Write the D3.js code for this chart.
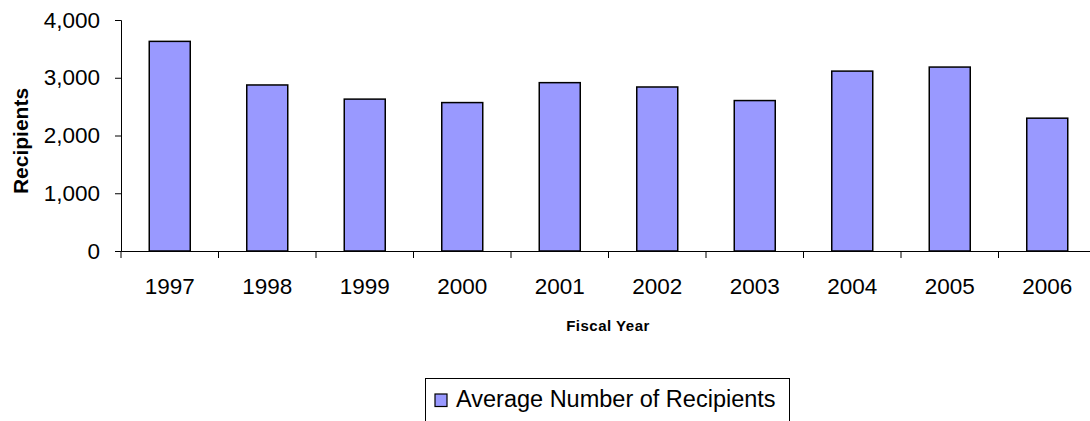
<!DOCTYPE html>
<html>
<head>
<meta charset="utf-8">
<script src="https://cdn.jsdelivr.net/npm/d3@7"></script>
<style>
  html, body { margin: 0; padding: 0; background: #fff; }
  svg { display: block; font-family: "Liberation Sans", Arial, sans-serif; }
</style>
</head>
<body>
<svg id="chart" width="1090" height="421"></svg>
<script>
const categories = ["1997", "1998", "1999", "2000", "2001", "2002", "2003", "2004", "2005", "2006"];
const recipients = [3630, 2875, 2630, 2570, 2915, 2840, 2605, 3115, 3185, 2300];
const yTicks = [0, 1000, 2000, 3000, 4000];
const seriesName = "Average Number of Recipients";
const xTitle = "Fiscal Year";
const yTitle = "Recipients";

const svg = d3.select("#chart");
const mLeft = 121, mRight = 1096, mTop = 20, mBottom = 251;
const FONT = "Liberation Sans, Arial, sans-serif";

const xOuter = d3.scaleBand().domain(categories).range([mLeft, mRight]);
const y = d3.scaleLinear().domain([0, 4000]).range([mBottom, mTop]);

// bars
svg.append("g").selectAll("rect").data(categories).join("rect")
  .attr("x", d => xOuter(d) + xOuter.bandwidth() / 2 - 20.5)
  .attr("width", 41)
  .attr("y", (d, i) => y(recipients[i]))
  .attr("height", (d, i) => mBottom - y(recipients[i]))
  .attr("fill", "#9999ff")
  .attr("stroke", "#000")
  .attr("stroke-width", 1.5);

// y axis
const yAxis = svg.append("g").attr("transform", `translate(${mLeft},0)`)
  .call(d3.axisLeft(y).tickValues(yTicks).tickSize(6).tickPadding(15).tickFormat(d3.format(",")));
yAxis.select(".domain").attr("stroke", "#000");
yAxis.selectAll("line").attr("stroke", "#000");
yAxis.selectAll("text").attr("font-size", 22.5).attr("fill", "#000").attr("font-family", FONT);

// x axis
const xAxis = svg.append("g").attr("transform", `translate(0,${mBottom})`)
  .call(d3.axisBottom(xOuter).tickSize(0).tickPadding(27));
xAxis.select(".domain").attr("stroke", "#000");
xAxis.selectAll("text").attr("font-size", 22.5).attr("fill", "#000").attr("font-family", FONT);
// category boundary ticks
svg.append("g").selectAll("line").data(categories).join("line")
  .attr("x1", d => xOuter(d)).attr("x2", d => xOuter(d))
  .attr("y1", mBottom).attr("y2", mBottom + 7)
  .attr("stroke", "#000");

// axis titles
svg.append("text")
  .attr("x", 608).attr("y", 331)
  .attr("text-anchor", "middle")
  .attr("font-size", 15).attr("font-weight", "bold")
  .attr("letter-spacing", 0.5)
  .text(xTitle);

svg.append("text")
  .attr("transform", "translate(28,141) rotate(-90)")
  .attr("text-anchor", "middle")
  .attr("font-size", 21).attr("font-weight", "bold")
  .text(yTitle);

// legend
const lg = svg.append("g");
lg.append("rect").attr("x", 425.5).attr("y", 378.5).attr("width", 364).attr("height", 50)
  .attr("fill", "#fff").attr("stroke", "#000");
lg.append("rect").attr("x", 435).attr("y", 394).attr("width", 12).attr("height", 12.5)
  .attr("fill", "#9999ff").attr("stroke", "#000").attr("stroke-width", 1.2);
lg.append("text").attr("x", 456).attr("y", 406.5)
  .attr("font-size", 23.5).attr("fill", "#000")
  .text(seriesName);
</script>
</body>
</html>
